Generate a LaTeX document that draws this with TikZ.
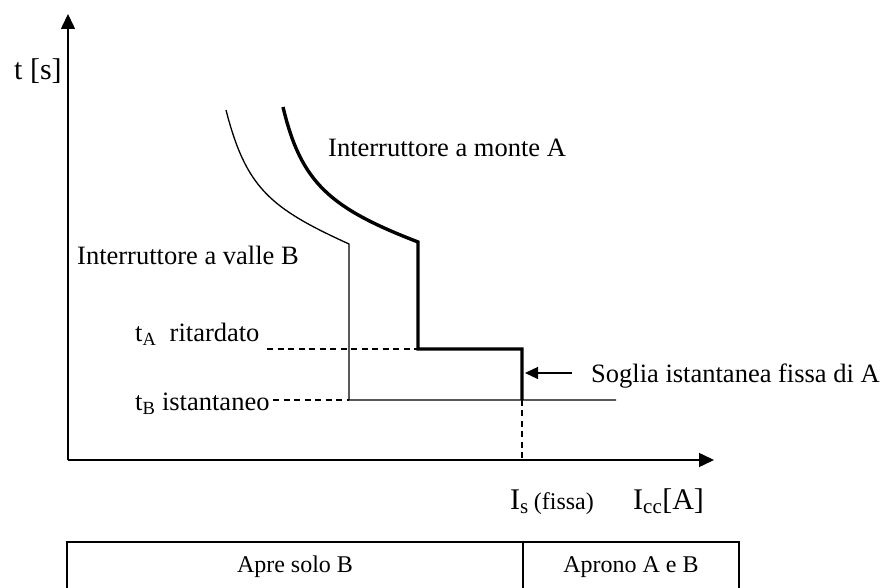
\documentclass[tikz,border=0pt]{standalone}
\usepackage{fontspec}
\setmainfont{Liberation Serif}
\usetikzlibrary{arrows.meta,positioning}
\tikzset{
	thinline/.style={line width=1.3pt},
	thickline/.style={line width=3.4pt},
	guideline/.style={line width=1.2pt, dash pattern=on 6pt off 4.5pt},
	axisarr/.style={-{Triangle[length=15pt,width=14pt]}, line width=1.5pt},
	markarr/.style={-{Triangle[length=13pt,width=12pt]}, line width=1.3pt},
	lbl/.style={font=\fontsize{26.5}{30}\selectfont, inner sep=0pt},
	biglbl/.style={font=\fontsize{30}{34}\selectfont, inner sep=0pt},
	cell/.style={font=\fontsize{24}{28}\selectfont, inner sep=0pt}
}

\begin{document}
\begin{tikzpicture}[x=1pt,y=1pt]
	\useasboundingbox (0,0) rectangle (885,588);
	% axes
	\coordinate (O) at (68,128);
	\coordinate (ytip) at (68,574);
	\coordinate (xtip) at (714,128);
	\draw[axisarr] (O) -- (ytip);
	\draw[axisarr] (O) -- (xtip);
	\node[biglbl, anchor=base west] (tlab) at (14,508) {t [s]};
	% curve B (downstream)
	\coordinate (Btop) at (226,478);
	\coordinate (Bknee) at (349,344);
	\coordinate (Bfoot) at (349,188);
	\coordinate (Bend) at (616,188);
	\draw[thinline] (Btop) .. controls (246,400) and (270,380) .. (Bknee) -- (Bfoot) -- (Bend);
	% curve A (upstream)
	\coordinate (Atop) at (283,481);
	\coordinate (Aknee) at (418,346);
	\coordinate (Arit) at (418,239);
	\coordinate (Asog) at (522,239);
	\coordinate (Aend) at (522,188);
	\draw[thickline] (Atop) .. controls (301,405) and (330,380) .. (Aknee) -- (Arit) -- (Asog) -- (Aend);
	% guides
	\coordinate (tAstart) at (267,239);
	\coordinate (tBstart) at (273,188);
	\coordinate (Isfoot) at (522,128);
	\draw[guideline] (tAstart) -- (Arit);
	\draw[guideline] (tBstart) -- (Bfoot);
	\draw[guideline] (Aend) -- (Isfoot);
	% labels
	\node[lbl, anchor=base west] (monte) at (328,431) {Interruttore a monte A};
	\node[lbl, anchor=base west] (valle) at (77,323) {Interruttore a valle B};
	\node[lbl, anchor=base west] (tA) at (135,246) {t\textsubscript{A}\enspace ritardato};
	\node[lbl, anchor=base west] (tB) at (135,177) {t\textsubscript{B} istantaneo};
	\node[lbl, anchor=base west] (soglia) at (591,205) {Soglia istantanea fissa di A};
	\coordinate (sogliatip) at (525,215);
	\draw[markarr] (572,215) coordinate (sogliatail) -- (sogliatip);
	\node[biglbl, anchor=base west] (Is) at (510,78) {I\textsubscript{s}\,{\fontsize{24}{28}\selectfont(fissa)}};
	\node[biglbl, anchor=base west] (Icc) at (633,78) {I\textsubscript{cc}[A]};
	% table
	\coordinate (tabSW) at (67,-5);
	\coordinate (tabNE) at (739,46);
	\coordinate (tabSE) at (739,-5);
	\coordinate (tabN) at (523,46);
	\coordinate (tabS) at (523,-5);
	\draw[line width=1.5pt] (tabSW) |- (tabNE) -- (tabSE);
	\draw[line width=1.5pt] (tabN) -- (tabS);
	\node[cell, anchor=base] (solo) at (295,15) {Apre solo B};
	\node[cell, anchor=base] (entrambi) at (631,15) {Aprono A e B};
\end{tikzpicture}
\end{document}
